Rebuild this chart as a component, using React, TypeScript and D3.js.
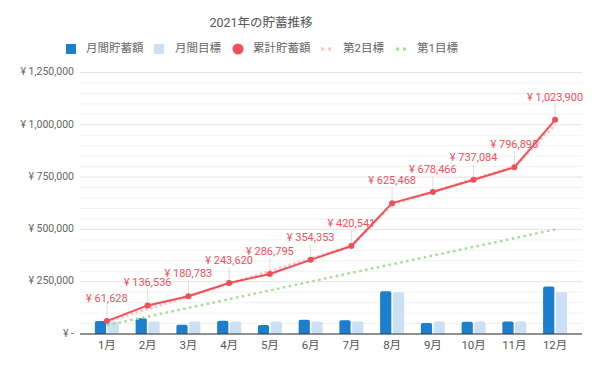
import React, { useEffect } from "react";
import * as d3 from "d3";

const months = ["1月", "2月", "3月", "4月", "5月", "6月", "7月", "8月", "9月", "10月", "11月", "12月"];
const monthlySaved = [61628, 74908, 44247, 62837, 43175, 67558, 66188, 204927, 52998, 58618, 59811, 227005];
const monthlyTarget = [60000, 60000, 60000, 60000, 60000, 60000, 60000, 200000, 60000, 60000, 60000, 200000];
const cumulative = [61628, 136536, 180783, 243620, 286795, 354353, 420541, 625468, 678466, 737084, 796895, 1023900];
const target2 = [60000, 120000, 180000, 240000, 300000, 360000, 420000, 620000, 680000, 740000, 800000, 1000000];
const target1 = [41667, 83333, 125000, 166667, 208333, 250000, 291667, 333333, 375000, 416667, 458333, 500000];
const yTicks = [0, 250000, 500000, 750000, 1000000, 1250000];

const W = 600;
const H = 371;
const FONT = "Roboto, 'Noto Sans CJK JP', sans-serif";
const BLUE = "#1b7fce";
const LIGHT = "#cbe0f4";
const RED = "#f0505a";
const PINK = "#ffc4c4";
const GREEN = "#a6dc97";

const yen = (v: number) => (v === 0 ? "¥ -" : "¥ " + d3.format(",")(v));

export default function App() {
  useEffect(() => {
    document.body.style.margin = "0";
  }, []);

  const x = d3.scaleBand<string>().domain(months).range([80, 582]).paddingInner(0).paddingOuter(0.16);
  const y = d3.scaleLinear().domain([0, 1250000]).range([334, 72.5]);
  const sub = d3.scaleBand<string>().domain(["a", "t"]).range([-12, 12]).paddingInner(0.12);
  const cx = (m: string) => (x(m) as number) + x.bandwidth() / 2;
  const minor = d3.range(0, 1250001, 50000);

  const line = (vals: number[]) =>
    d3.line<number>().x((_, i) => cx(months[i])).y((d) => y(d))(vals) as string;

  const bar = (xs: number, w: number, v: number, fill: string, key: string) => {
    const top = y(v);
    const h = y(0) - top;
    const r = Math.min(2, h);
    const d = `M${xs},${y(0)}V${top + r}Q${xs},${top} ${xs + r},${top}H${xs + w - r}Q${xs + w},${top} ${xs + w},${top + r}V${y(0)}Z`;
    return <path key={key} d={d} fill={fill} />;
  };

  const legendY = 49;
  return (
    <svg width={W} height={H} style={{ display: "block", fontFamily: FONT }}>
      <rect width={W} height={H} fill="#fff" />
      <text x={261} y={24} textAnchor="middle" dominantBaseline="middle" fontSize={12.5} fill="#555">
        2021年の貯蓄推移
      </text>

      {/* legend */}
      <g fontSize={11.5} fill="#666">
        <rect x={66} y={legendY - 5} width={10} height={10} fill={BLUE} />
        <text x={86} y={legendY} dominantBaseline="middle">月間貯蓄額</text>
        <rect x={154} y={legendY - 5} width={10} height={10} fill={LIGHT} />
        <text x={175} y={legendY} dominantBaseline="middle">月間目標</text>
        <circle cx={238} cy={legendY} r={5.5} fill={RED} />
        <text x={253} y={legendY} dominantBaseline="middle">累計貯蓄額</text>
        <line x1={321} x2={334} y1={legendY} y2={legendY} stroke={PINK} strokeWidth={3} strokeDasharray="3,4" />
        <text x={343} y={legendY} dominantBaseline="middle">第2目標</text>
        <line x1={396} x2={409} y1={legendY} y2={legendY} stroke={GREEN} strokeWidth={3} strokeDasharray="3,4" />
        <text x={417} y={legendY} dominantBaseline="middle">第1目標</text>
      </g>

      {/* grid */}
      {minor.map((v) => (
        <line key={"m" + v} x1={80} x2={582} y1={y(v)} y2={y(v)} stroke={v % 250000 === 0 ? "#e4e4e4" : "#f2f2f2"} strokeWidth={1} />
      ))}
      {yTicks.map((v) => (
        <text key={"yt" + v} x={74} y={y(v)} textAnchor="end" dominantBaseline="middle" fontSize={10.5} fill="#666">
          {yen(v)}
        </text>
      ))}

      {/* bars */}
      {months.map((m, i) => (
        <g key={"b" + m}>
          {bar(cx(m) + (sub("a") as number), sub.bandwidth(), monthlySaved[i], BLUE, "a")}
          {bar(cx(m) + (sub("t") as number), sub.bandwidth(), monthlyTarget[i], LIGHT, "t")}
        </g>
      ))}

      <line x1={80} x2={582} y1={y(0)} y2={y(0)} stroke="#333" strokeWidth={1} />
      {months.map((m) => (
        <text key={"xt" + m} x={cx(m)} y={346} textAnchor="middle" dominantBaseline="middle" fontSize={11.5} fill="#555">
          {m}
        </text>
      ))}

      {/* lines */}
      <path d={line(target1)} fill="none" stroke={GREEN} strokeWidth={2.5} strokeDasharray="2.5,3.5" />
      <path d={line(target2)} fill="none" stroke={PINK} strokeWidth={3} strokeDasharray="2.5,2.5" />
      {cumulative.map((v, i) => (
        <line key={"ld" + i} x1={cx(months[i])} x2={cx(months[i])} y1={y(v)} y2={y(v) - 16} stroke="#ddd" strokeWidth={1} />
      ))}
      <path d={line(cumulative)} fill="none" stroke={RED} strokeWidth={2} />
      {cumulative.map((v, i) => (
        <circle key={"c" + i} cx={cx(months[i])} cy={y(v)} r={3} fill={RED} />
      ))}
      {cumulative.map((v, i) => (
        <text key={"dl" + i} x={cx(months[i])} y={y(v) - 22} textAnchor="middle" dominantBaseline="middle" fontSize={11} fill={RED}>
          {yen(v)}
        </text>
      ))}
    </svg>
  );
}
